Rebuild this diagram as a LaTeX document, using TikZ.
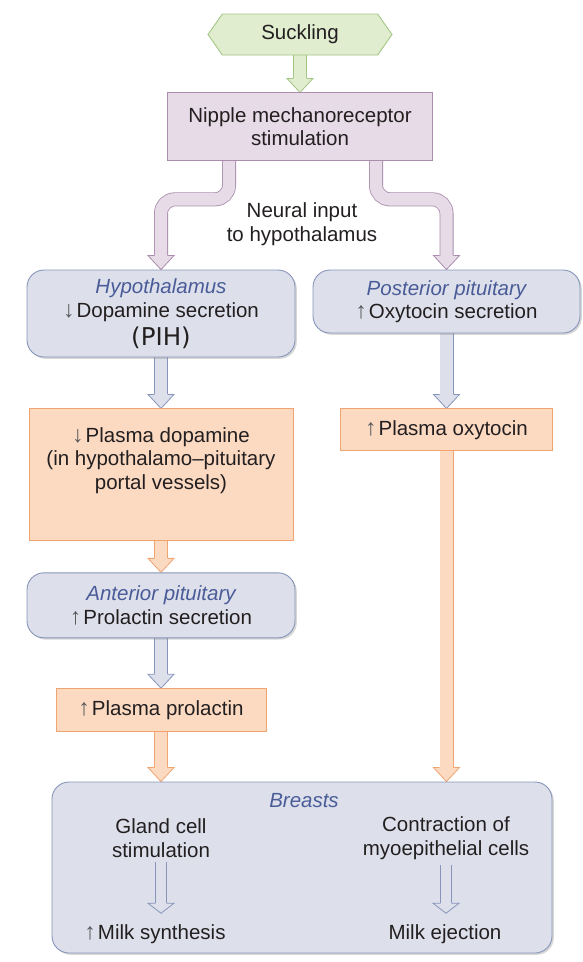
\documentclass[tikz,border=0pt]{standalone}
\usepackage{fontspec}
\setmainfont{Liberation Sans}
\newfontfamily\pihfont{DejaVu Sans}
\usepackage{tikz}
\usetikzlibrary{
    arrows.meta,
    positioning,
    calc,
    shadows,
    backgrounds,
    shapes.symbols
}

\definecolor{gfill}{HTML}{E0EDCF}
\definecolor{gline}{HTML}{A3C585}
\definecolor{nfill}{HTML}{E6DBE7}
\definecolor{nline}{HTML}{AA8CAD}
\definecolor{bfill}{HTML}{DDE0EB}
\definecolor{bline}{HTML}{8795BA}
\definecolor{ofill}{HTML}{FCDAC2}
\definecolor{oline}{HTML}{F0A470}
\definecolor{headblue}{HTML}{4A5C98}
\definecolor{ink}{HTML}{231F20}
\definecolor{arrgray}{HTML}{58595B}

\newcommand{\bodyfont}{\fontsize{20.5}{23.5}\selectfont}
\newcommand{\organname}[1]{\textcolor{headblue}{\itshape #1}}
\newcommand{\incr}{{\fontsize{23}{23}\selectfont\textcolor{arrgray}{↑}}\hspace{2pt}}
\newcommand{\decr}{{\fontsize{23}{23}\selectfont\textcolor{arrgray}{↓}}\hspace{2pt}}

% straight block arrow, x taken from the upper node
\newcommand{\flow}[3]{%
  \draw[#1 shaft] let \p1=(#2.south), \p2=(#3.north) in
    (\x1,\y1+3pt) -- (\x1,\y2+13pt);
  \filldraw[#1 head] let \p1=(#2.south), \p2=(#3.north) in
    (\x1-7pt,\y2+14pt) -- (\x1-13pt,\y2+14pt) -- (\x1,\y2)
    -- (\x1+13pt,\y2+14pt) -- (\x1+7pt,\y2+14pt);
}
% bent block arrow, #4 = offset of the upper leg
\newcommand{\branch}[4]{%
  \draw[#1 shaft, rounded corners=14pt] let \p1=(#2.south), \p2=(#3.north) in
    (\x1#4,\y1+3pt) -- (\x1#4,\y1-38pt) -- (\x2,\y1-38pt) -- (\x2,\y2+13pt);
  \filldraw[#1 head] let \p2=(#3.north) in
    (\x2-7pt,\y2+14pt) -- (\x2-13pt,\y2+14pt) -- (\x2,\y2)
    -- (\x2+13pt,\y2+14pt) -- (\x2+7pt,\y2+14pt);
}
% open arrow inside the breasts box
\newcommand{\hollow}[2]{%
  \draw[h shaft] let \p1=(#1.south), \p2=(#2.north) in
    (\x1,\y1-2pt) -- (\x1,\y2+17pt);
  \filldraw[h head] let \p1=(#1.south), \p2=(#2.north) in
    (\x1-6pt,\y2+18pt) -- (\x1-13pt,\y2+18pt) -- (\x1,\y2+8pt)
    -- (\x1+13pt,\y2+18pt) -- (\x1+6pt,\y2+18pt);
}

\begin{document}
\begin{tikzpicture}[
    x=1pt, y=1pt,
    box/.style={
        draw,
        line width=0.9pt,
        align=center,
        inner sep=3pt,
        text=ink,
        font=\bodyfont
    },
    cue/.style={box, signal, signal to=west and east, signal pointer angle=110,
        draw=gline, fill=gfill, minimum width=184pt, minimum height=41pt},
    stim/.style={box, draw=nline, fill=nfill},
    organ/.style={box, draw=bline, fill=bfill, rounded corners=17pt,
        drop shadow={shadow xshift=1.8pt, shadow yshift=-1.8pt, opacity=.35, fill=black!45}},
    plasma/.style={box, draw=oline, fill=ofill},
    txt/.style={align=center, inner sep=3pt, text=ink, font=\bodyfont},
    g shaft/.style={draw=gline, double=gfill, line width=0.8pt, double distance=12.4pt},
    g head/.style={draw=gline, fill=gfill, line width=0.8pt},
    n shaft/.style={draw=nline, double=nfill, line width=0.8pt, double distance=12.4pt},
    n head/.style={draw=nline, fill=nfill, line width=0.8pt},
    b shaft/.style={draw=bline, double=bfill, line width=0.8pt, double distance=12.4pt},
    b head/.style={draw=bline, fill=bfill, line width=0.8pt},
    o shaft/.style={draw=oline, double=ofill, line width=0.8pt, double distance=12.4pt},
    o head/.style={draw=oline, fill=ofill, line width=0.8pt},
    h shaft/.style={draw=bline, double=bfill, line width=0.8pt, double distance=10.4pt},
    h head/.style={draw=bline, fill=bfill, line width=0.8pt}
]
\useasboundingbox (0,0) rectangle (582,-962);

\node[cue] (suck) at (300,-34.5) {Suckling};

\node[stim, minimum width=265pt, minimum height=68pt, below=37pt of suck] (nip)
{Nipple mechanoreceptor\\stimulation};

\node[txt] (neural) at (302,-224) {Neural input\\to hypothalamus};

\node[organ, minimum width=268pt, minimum height=87pt] (hypo) at (161,-313.5)
{\organname{Hypothalamus}\\\decr Dopamine secretion\\[4.5pt]{\pihfont\fontsize{24.5}{28}\selectfont(PIH)}};

\node[organ, minimum width=267pt, minimum height=63pt] (post) at (446.5,-301.5)
{\organname{Posterior pituitary}\\\incr Oxytocin secretion};

\node[plasma, minimum width=264pt, minimum height=132pt, below=51pt of hypo] (dop)
{\decr Plasma dopamine\\(in hypothalamo–pituitary\\portal vessels)\\[10pt]\mbox{}};

\node[plasma, minimum width=212pt, minimum height=42pt, below=75pt of post] (oxy)
{\incr Plasma oxytocin};

\node[organ, minimum width=268pt, minimum height=65pt, below=31pt of dop] (ant)
{\organname{Anterior pituitary}\\\incr Prolactin secretion};

\node[plasma, minimum width=210pt, minimum height=43pt, below=50pt of ant] (prl)
{\incr Plasma prolactin};

\node[organ, minimum width=500pt, minimum height=171pt] (br) at (302,-867.5) {};
\node[txt] (brname) at (304,-801) {\organname{Breasts}};
\node[txt] (gland) at (161,-838) {Gland cell\\stimulation};
\node[txt] (contr) at (446,-838) {Contraction of\\myoepithelial cells};
\node[txt] (msyn) at (155,-934) {\incr Milk synthesis};
\node[txt] (mej) at (445,-934) {Milk ejection};

\begin{scope}[on background layer]
\flow{g}{suck}{nip}
\branch{n}{nip}{hypo}{-71pt}
\branch{n}{nip}{post}{+76pt}
\flow{b}{hypo}{dop}
\flow{b}{post}{oxy}
\flow{o}{dop}{ant}
\flow{b}{ant}{prl}
\flow{o}{prl}{br}
\flow{o}{oxy}{br}
\end{scope}

\hollow{gland}{msyn}
\hollow{contr}{mej}

\end{tikzpicture}
\end{document}
